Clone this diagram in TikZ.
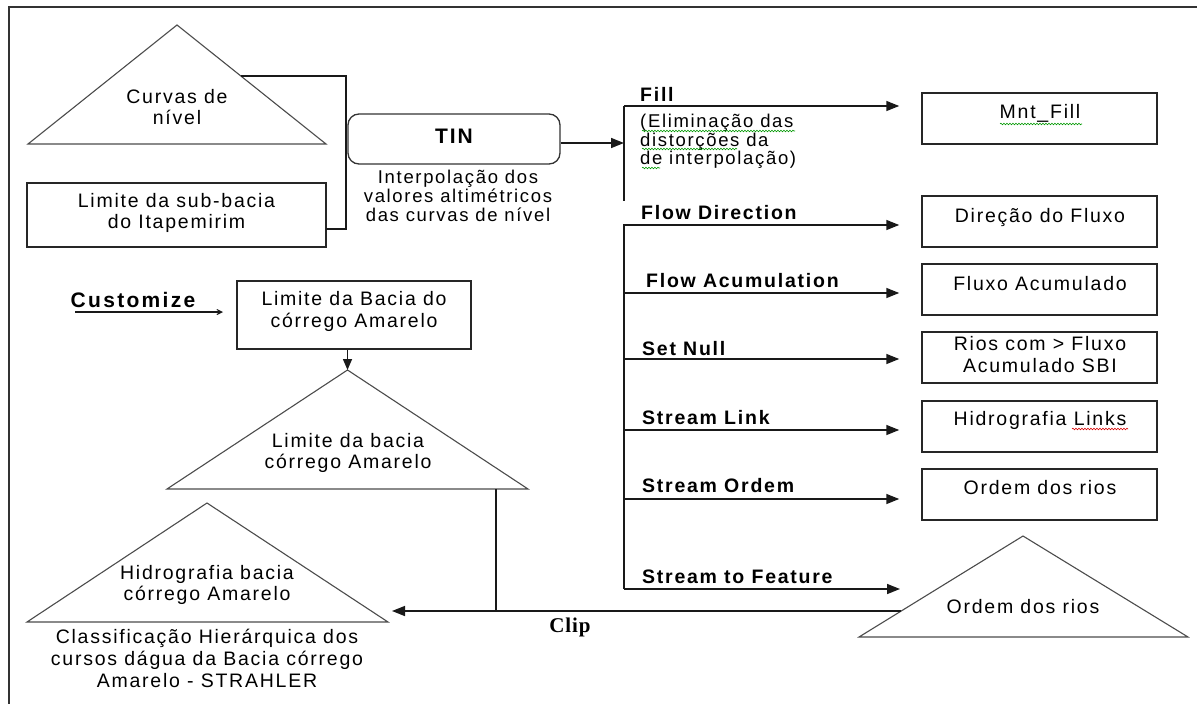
\documentclass[tikz,border=0pt]{standalone}
\usepackage{fontspec}
\setmainfont{Liberation Sans}[LetterSpace=9]
\newfontfamily\custfont{Liberation Sans}[LetterSpace=11]
\newfontfamily\clipfont{Liberation Serif}[LetterSpace=4]
\usetikzlibrary{arrows.meta,decorations.pathmorphing}
\begin{document}
\begin{tikzpicture}[x=1pt,y=-1pt,
  body/.style={font=\fontsize{19.5}{21.8}\selectfont, align=center, inner sep=0pt},
  capt/.style={font=\fontsize{18.5}{18.7}\selectfont, align=center, inner sep=0pt},
  lbl/.style={font=\fontsize{19.5}{21}\selectfont\bfseries, anchor=west, inner sep=0pt},
  boxshape/.style={draw=black!85, line width=1.5pt, inner sep=0pt},
  tri/.style={draw=black!70, line width=1.1pt, line join=miter},
  conn/.style={draw=black!90, line width=1.5pt},
  arr/.style={conn, -{Triangle[length=13pt,width=10pt]}},
  squig/.style={draw=green!60!black, line width=0.6pt, decorate,
    decoration={snake, segment length=3pt, amplitude=0.8pt}},
  squigr/.style={squig, draw=red!85!black},
]
\useasboundingbox (0,0) rectangle (1197,704);
\fill[white] (0,0) rectangle (1197,704);
% frame
\draw[line width=1.3pt, black!80] (9,704) -- (9,7) -- (1197,7);

% Curvas de nivel triangle
\coordinate (t1a) at (177,25);
\coordinate (t1l) at (28,144);
\coordinate (t1r) at (326,144);
\draw[tri] (t1a) -- (t1r) -- (t1l) -- cycle;
\node[body] (t1txt) at (177,107) {Curvas de\\nível};

% Limite da sub-bacia
\node[boxshape, minimum width=299pt, minimum height=64pt] (r1) at (176.5,215) {};
\node[body] (r1txt) at (176.5,213) {Limite da sub-bacia\\do Itapemirim};

% bracket
\coordinate (br1) at (241,76);
\coordinate (br2) at (346,76);
\coordinate (br3) at (346,229);
\coordinate (br4) at (326,229);
\draw[conn] (br1) -- (br2) -- (br3) -- (br4);

% TIN
\node[draw=black!80, line width=1.3pt, rounded corners=11pt, minimum width=212pt, minimum height=50pt, inner sep=0pt] (tin) at (454,139) {};
\node[font=\fontsize{21}{23}\selectfont\bfseries, inner sep=0pt] (tintxt) at (454,136) {TIN};
\node[capt] (tincap) at (458,196) {Interpolação dos\\valores altimétricos\\das curvas de nível};

% main vertical line
\coordinate (v0) at (624,106);
\coordinate (v1) at (624,201);
\coordinate (v2) at (624,224);
\coordinate (v3) at (624,589);
\draw[conn] (v0) -- (v1);
\draw[conn] (v2) -- (v3);
\coordinate (tinin) at (624,143);
\draw[arr] (tin.east |- tinin) -- (tinin);

% output boxes
\node[boxshape, minimum width=235pt, minimum height=51pt] (b1) at (1039.5,118.5) {};
\node[boxshape, minimum width=235pt, minimum height=51pt] (b2) at (1039.5,221.5) {};
\node[boxshape, minimum width=235pt, minimum height=51pt] (b3) at (1039.5,289.5) {};
\node[boxshape, minimum width=235pt, minimum height=51pt] (b4) at (1039.5,357.5) {};
\node[boxshape, minimum width=235pt, minimum height=51pt] (b5) at (1039.5,426.5) {};
\node[boxshape, minimum width=235pt, minimum height=51pt] (b6) at (1039.5,494.5) {};
\node[body] (b1txt) at (1040,113) {Mnt\_Fill};
\node[body] (b2txt) at (1040,217) {Direção do Fluxo};
\node[body] (b3txt) at (1040,284) {Fluxo Acumulado};
\node[body] (b4txt) at (1040,354.5) {Rios com > Fluxo\\Acumulado SBI};
\node[body] (b5txt) at (1040,420) {Hidrografia Links};
\node[body] (b6txt) at (1040,488) {Ordem dos rios};

% step arrows
\coordinate (s1) at (624,106);
\coordinate (s2) at (624,225);
\coordinate (s3) at (624,293);
\coordinate (s4) at (624,359);
\coordinate (s5) at (624,430);
\coordinate (s6) at (624,499);
\coordinate (s7) at (624,589);
\draw[arr, shorten >=22pt] (s1) -- (s1 -| b1.west);
\draw[arr, shorten >=22pt] (s2) -- (s2 -| b2.west);
\draw[arr, shorten >=22pt] (s3) -- (s3 -| b3.west);
\draw[arr, shorten >=22pt] (s4) -- (s4 -| b4.west);
\draw[arr, shorten >=22pt] (s5) -- (s5 -| b5.west);
\draw[arr, shorten >=22pt] (s6) -- (s6 -| b6.west);
\coordinate (s7end) at (900,589);
\draw[arr] (s7) -- (s7end);

% step labels
\node[lbl] (l1) at (640,94) {Fill};
\node[capt, align=left, anchor=west] (l1cap) at (640,141.5) {(Eliminação das\\distorções da\\de interpolação)};
\node[lbl] (l2) at (641,213) {Flow Direction};
\node[lbl] (l3) at (646,281) {Flow Acumulation};
\node[lbl] (l4) at (642,349) {Set Null};
\node[lbl] (l5) at (642,418) {Stream Link};
\node[lbl] (l6) at (642,486) {Stream Ordem};
\node[lbl] (l7) at (642,577) {Stream to Feature};

% spell-check squiggles
\draw[squig] (642,131) -- (795,131);
\draw[squig] (642,149) -- (737,149);
\draw[squig] (642,168) -- (660,168);
\draw[squig] (1000,124) -- (1082,124);
\draw[squigr] (1072,429) -- (1128,429);

% Ordem dos rios triangle
\coordinate (t4a) at (1023,536);
\coordinate (t4l) at (859,637);
\coordinate (t4r) at (1188,637);
\draw[tri] (t4a) -- (t4r) -- (t4l) -- cycle;
\node[body] (t4txt) at (1023,607) {Ordem dos rios};

% Customize
\node[font=\fontsize{21}{23}\selectfont\custfont\bfseries, inner sep=0pt] (cust) at (133,300) {Customize};
\coordinate (cu1) at (75,312);
\coordinate (cu2) at (223,312);
\draw[line width=1.1pt, black!90, -{Straight Barb[length=5pt,width=5pt]}] (cu1) -- (cu2);

% Limite da Bacia do corrego Amarelo box
\node[boxshape, minimum width=234pt, minimum height=68pt] (r2) at (354,315) {};
\node[body] (r2txt) at (354,311.5) {Limite da Bacia do\\córrego Amarelo};

% triangle Limite da bacia
\coordinate (t2a) at (347.5,370);
\coordinate (t2l) at (167,489);
\coordinate (t2r) at (528,489);
\draw[tri] (t2a) -- (t2r) -- (t2l) -- cycle;
\node[body, font=\fontsize{19.5}{20.5}\selectfont] (t2txt) at (348,453) {Limite da bacia\\córrego Amarelo};
\draw[conn, -{Triangle[length=11pt,width=9pt]}] (r2.south -| t2a) -- (t2a);

% triangle Hidrografia
\coordinate (t3a) at (207,503);
\coordinate (t3l) at (27,622);
\coordinate (t3r) at (388,622);
\draw[tri] (t3a) -- (t3r) -- (t3l) -- cycle;
\node[body, font=\fontsize{19.5}{21}\selectfont] (t3txt) at (207,584.5) {Hidrografia bacia\\córrego Amarelo};
\node[body] (t3cap) at (207,658.5) {Classificação Hierárquica dos\\cursos dágua da Bacia córrego\\Amarelo - STRAHLER};

% Clip
\coordinate (j1) at (496,489);
\coordinate (j2) at (496,611);
\coordinate (c0) at (901,611);
\coordinate (c1) at (392,611);
\draw[conn] (j1) -- (j2);
\draw[arr] (c0) -- (c1);
\node[font=\fontsize{21}{23}\selectfont\clipfont\bfseries, inner sep=0pt] (cliplbl) at (570,627) {Clip};
\end{tikzpicture}
\end{document}
